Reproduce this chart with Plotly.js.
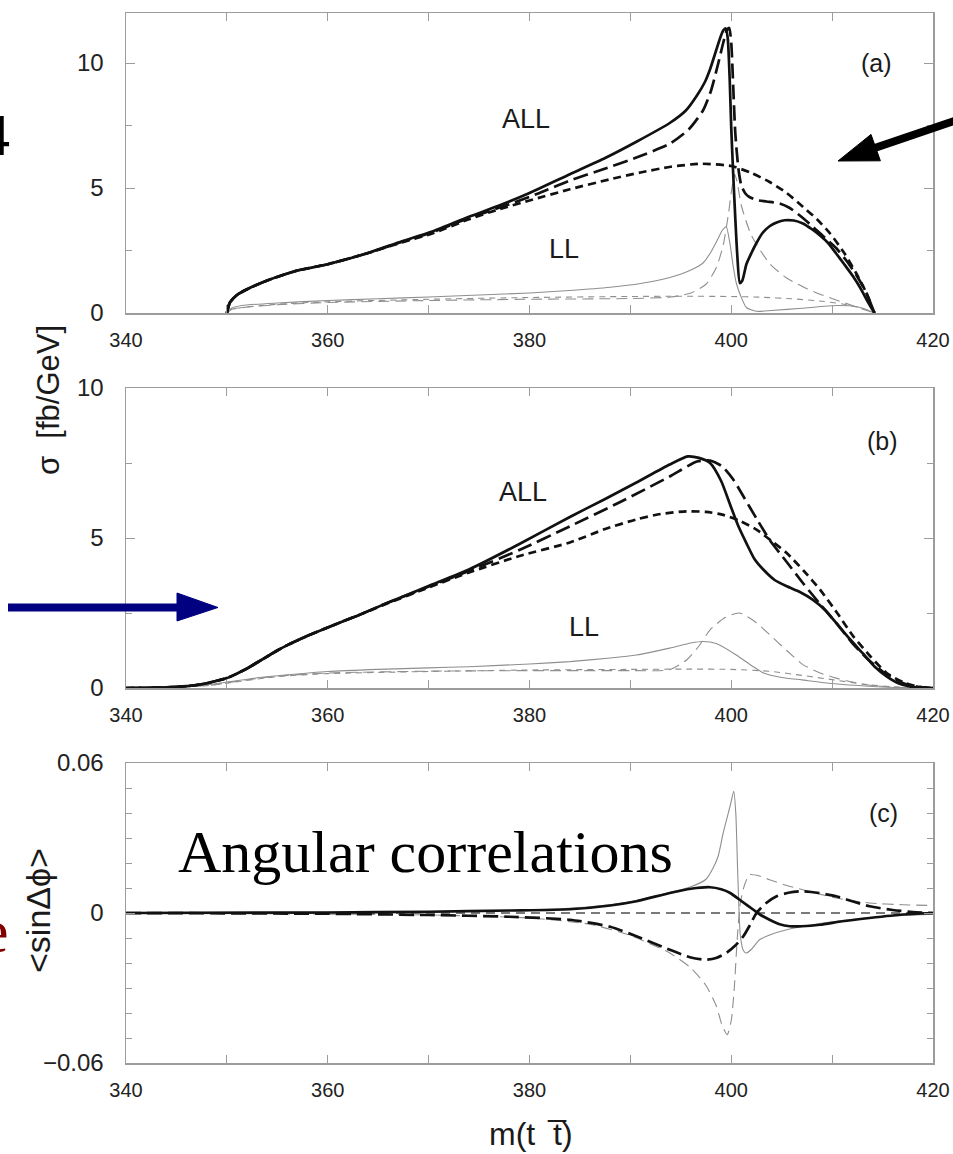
<!DOCTYPE html>
<html>
<head>
<meta charset="utf-8">
<script src="https://cdn.plot.ly/plotly-3.0.1.min.js"></script>
<style>
html,body{margin:0;padding:0;background:#fff;}
#chart{width:953px;height:1154px;}
</style>
</head>
<body>
<div id="chart"></div>
<script>
// ---------------- Panel (a) ----------------
const aX_allSolid = [350, 350.3, 351, 352, 354, 357, 360, 364, 367, 370.5, 374, 377, 380, 384, 387.5, 390.6, 393.9, 395.5, 396.6, 397.4, 397.9, 398.5, 398.9, 399.2, 399.45, 399.65, 399.85, 400.0, 400.2, 400.4, 400.6, 400.85, 401.1, 401.5, 402, 402.5, 403.1, 403.8, 404.5, 405.3, 406.2, 407.1, 408, 408.8, 409.6, 410.4, 411.2, 412.1, 412.8, 413.4, 413.9, 414.2];
const aY_allSolid = [0, 0.42, 0.72, 0.95, 1.3, 1.7, 1.95, 2.4, 2.82, 3.28, 3.85, 4.3, 4.8, 5.55, 6.2, 6.85, 7.6, 8.1, 8.7, 9.25, 9.75, 10.5, 11.0, 11.3, 11.38, 11.0, 9.3, 7.4, 5.5, 3.8, 2.3, 1.2, 1.3, 1.95, 2.4, 2.8, 3.2, 3.47, 3.62, 3.71, 3.7, 3.58, 3.35, 3.1, 2.8, 2.38, 1.95, 1.45, 1.0, 0.55, 0.2, 0];

const aX_allLong = [350, 350.3, 351, 352, 354, 357, 360, 364, 367, 370.5, 374, 378, 381, 384, 387.3, 390.6, 393.9, 395.8, 397.2, 398.0, 398.7, 399.2, 399.55, 399.8, 400.0, 400.2, 400.4, 400.7, 401.0, 401.4, 401.8, 402.5, 403.5, 404.8, 405.8, 406.8, 408.1, 409.3, 410.4, 411.5, 412.5, 413.4, 414.2];
const aY_allLong = [0, 0.42, 0.72, 0.95, 1.3, 1.7, 1.95, 2.4, 2.8, 3.25, 3.8, 4.35, 4.8, 5.3, 5.75, 6.22, 6.77, 7.35, 8.1, 8.9, 9.97, 10.8, 11.3, 11.4, 10.8, 9.0, 7.2, 5.8, 5.1, 4.78, 4.64, 4.52, 4.46, 4.38, 4.2, 3.9, 3.45, 3.0, 2.6, 2.05, 1.45, 0.8, 0];

const aX_allShort = [350, 350.3, 351, 352, 354, 357, 360, 364, 367, 370.5, 374, 377, 380, 384, 388, 391, 394, 397, 400, 402, 403.8, 405.5, 407.1, 408.5, 409.8, 411.2, 412.4, 413.4, 414.2];
const aY_allShort = [0, 0.42, 0.72, 0.95, 1.3, 1.7, 1.95, 2.4, 2.78, 3.2, 3.75, 4.15, 4.5, 4.95, 5.35, 5.62, 5.85, 5.97, 5.88, 5.6, 5.24, 4.8, 4.25, 3.75, 3.18, 2.4, 1.58, 0.8, 0];

const aX_llSolid = [350, 350.5, 351.5, 355, 360, 365, 370, 375, 380, 384, 388, 391, 393.9, 396, 397.2, 398, 398.6, 399.1, 399.5, 399.9, 400.2, 400.5, 400.9, 401.5, 402.5, 404, 407, 410.4, 412.5, 413.5, 414.2];
const aY_llSolid = [0, 0.2, 0.3, 0.4, 0.5, 0.57, 0.64, 0.72, 0.8, 0.9, 1.03, 1.18, 1.42, 1.72, 2.0, 2.45, 2.9, 3.3, 3.45, 2.7, 1.85, 1.2, 0.72, 0.22, 0.07, 0.1, 0.19, 0.3, 0.25, 0.12, 0];

const aX_llLong = [350, 350.5, 355, 360, 370, 380, 390, 394, 396, 397.5, 398.5, 399.2, 399.7, 400.1, 400.35, 400.6, 401, 402, 403.8, 405.5, 407.1, 408.8, 410.4, 412, 413.3, 414.2];
const aY_llLong = [0, 0.15, 0.33, 0.42, 0.5, 0.55, 0.58, 0.64, 0.8, 1.15, 1.8, 2.7, 3.9, 5.1, 5.55, 5.2, 4.3, 3.1, 1.98, 1.4, 1.05, 0.75, 0.52, 0.3, 0.12, 0];

const aX_llShort = [350, 350.5, 355, 360, 370, 380, 390, 395, 400, 403, 406, 409, 411, 413, 414.2];
const aY_llShort = [0, 0.15, 0.35, 0.45, 0.55, 0.62, 0.66, 0.67, 0.66, 0.63, 0.57, 0.47, 0.36, 0.18, 0];

// ---------------- Panel (b) ----------------
const bX_allSolid = [340, 342, 344, 346, 347, 348, 349, 350, 351, 352, 353, 354, 355, 356, 358, 360, 363, 366, 370, 374, 379, 384, 387.5, 390.6, 393.9, 395.7, 396.8, 397.9, 399, 399.9, 400.7, 401.5, 402.3, 403.2, 404.3, 405.5, 406.8, 408.1, 409.3, 410.4, 411.7, 413, 414.2, 415.4, 416.5, 417.7, 419, 420];
const bY_allSolid = [0, 0.005, 0.02, 0.06, 0.1, 0.16, 0.24, 0.33, 0.48, 0.65, 0.85, 1.05, 1.25, 1.43, 1.74, 2.02, 2.42, 2.85, 3.4, 3.95, 4.8, 5.7, 6.3, 6.85, 7.45, 7.72, 7.67, 7.5, 6.9, 6.1, 5.4, 4.83, 4.3, 3.94, 3.6, 3.39, 3.2, 2.94, 2.6, 2.17, 1.65, 1.17, 0.72, 0.39, 0.17, 0.05, 0.01, 0];

const bX_allLong = [340, 342, 344, 346, 347, 348, 349, 350, 351, 352, 353, 354, 355, 356, 358, 360, 363, 366, 370, 374, 379, 384, 389, 393.9, 396.6, 397.9, 399.1, 400.2, 401.2, 402.5, 403.8, 405.5, 407.1, 408.8, 410.4, 412, 413.6, 415.2, 417, 418.5, 420];
const bY_allLong = [0, 0.005, 0.02, 0.06, 0.1, 0.16, 0.24, 0.33, 0.48, 0.65, 0.85, 1.05, 1.25, 1.43, 1.74, 2.02, 2.42, 2.85, 3.38, 3.9, 4.6, 5.39, 6.2, 7.05, 7.55, 7.58, 7.39, 6.95, 6.39, 5.65, 4.94, 4.2, 3.5, 2.8, 2.17, 1.5, 0.94, 0.5, 0.17, 0.04, 0];

const bX_allShort = [340, 342, 344, 346, 347, 348, 349, 350, 351, 352, 353, 354, 355, 356, 358, 360, 363, 366, 370, 374, 379, 384, 387.5, 390.6, 393, 395.6, 397.5, 399.1, 400.8, 402.5, 404, 405.5, 407.2, 408.8, 410.5, 412.1, 413.8, 415.4, 417, 418.5, 420];
const bY_allShort = [0, 0.005, 0.02, 0.06, 0.1, 0.16, 0.24, 0.33, 0.48, 0.65, 0.85, 1.05, 1.25, 1.43, 1.74, 2.02, 2.42, 2.83, 3.35, 3.85, 4.4, 4.85, 5.3, 5.62, 5.8, 5.89, 5.87, 5.78, 5.58, 5.28, 4.9, 4.5, 3.9, 3.28, 2.5, 1.72, 1.05, 0.5, 0.2, 0.05, 0];

const bX_llSolid = [340, 344, 346, 348, 350, 353, 356, 360, 365, 370, 374, 380, 384, 388, 390.6, 393.9, 396, 397.2, 398.5, 400.5, 402, 403.2, 405, 407, 410, 413.6, 417, 420];
const bY_llSolid = [0, 0.01, 0.04, 0.1, 0.2, 0.34, 0.44, 0.55, 0.62, 0.67, 0.71, 0.8, 0.88, 1.0, 1.1, 1.33, 1.5, 1.55, 1.48, 1.1, 0.75, 0.5, 0.35, 0.27, 0.15, 0.06, 0.01, 0];

const bX_llLong = [340, 344, 348, 350, 353, 356, 360, 370, 380, 390, 393.9, 395.6, 396.8, 397.9, 399.4, 400.8, 402.2, 403.8, 405.5, 407.1, 408.8, 410.4, 412, 413.6, 416, 420];
const bY_llLong = [0, 0.01, 0.08, 0.17, 0.32, 0.42, 0.5, 0.56, 0.58, 0.58, 0.61, 0.94, 1.4, 1.94, 2.35, 2.5, 2.25, 1.78, 1.25, 0.78, 0.5, 0.33, 0.2, 0.1, 0.03, 0];

const bX_llShort = [340, 348, 350, 355, 360, 370, 380, 390, 396, 400, 404, 407, 410, 413, 416, 420];
const bY_llShort = [0, 0.08, 0.16, 0.38, 0.48, 0.55, 0.6, 0.62, 0.63, 0.62, 0.55, 0.42, 0.28, 0.13, 0.04, 0];

// ---------------- Panel (c) ----------------
const cX_allSolid = [340, 360, 370, 378, 384, 388, 390.6, 393.9, 396, 397.9, 399, 399.9, 401, 402.2, 403, 403.8, 404.8, 405.8, 407, 408.8, 411, 413.7, 417, 420];
const cY_allSolid = [0, 0.0002, 0.0005, 0.001, 0.0015, 0.003, 0.0047, 0.008, 0.0097, 0.0103, 0.0095, 0.008, 0.0048, 0.0013, -0.001, -0.0027, -0.0045, -0.0053, -0.0053, -0.0047, -0.0033, -0.002, -0.0006, 0];

const cX_allLong = [340, 360, 370, 378, 384, 388, 390.6, 393.9, 396, 397.5, 398.5, 399.5, 400.4, 401.2, 401.9, 402.5, 403.4, 404.5, 405.8, 407.1, 408.7, 410.4, 412, 413.7, 416, 418, 420];
const cY_allLong = [0, -0.0003, -0.0008, -0.0015, -0.0027, -0.0055, -0.0093, -0.0147, -0.0178, -0.0187, -0.018, -0.016, -0.013, -0.0093, -0.0045, 0, 0.0038, 0.0067, 0.0082, 0.0087, 0.008, 0.0067, 0.0047, 0.0027, 0.0012, 0.0004, 0];

const cX_zero = [340, 420];
const cY_zero = [0, 0];

const cX_llSolid = [340, 370, 380, 386, 390, 393.9, 396, 397.5, 398.2, 398.7, 399.2, 399.9, 400.25, 400.45, 400.65, 400.9, 401.2, 401.5, 402, 402.8, 404, 405.5, 408, 410.4, 414, 417, 420];
const cY_llSolid = [0, 0.0004, 0.0012, 0.0025, 0.0045, 0.0082, 0.0105, 0.0135, 0.018, 0.0227, 0.032, 0.043, 0.0487, 0.04, 0.015, -0.009, -0.015, -0.016, -0.0145, -0.0107, -0.0085, -0.0067, -0.0047, -0.0033, -0.0018, -0.001, -0.0005];

const cX_llLong = [340, 370, 380, 386, 390, 393.9, 396, 397.5, 398.5, 399.1, 399.6, 400.0, 400.3, 400.6, 400.9, 401.3, 401.8, 402.8, 403.8, 405.5, 407.1, 410.4, 413.7, 417, 420];
const cY_llLong = [0, -0.0008, -0.002, -0.0045, -0.009, -0.016, -0.022, -0.029, -0.037, -0.045, -0.0487, -0.043, -0.03, -0.01, 0.004, 0.011, 0.0153, 0.0148, 0.0133, 0.011, 0.0093, 0.006, 0.004, 0.0033, 0.003];

// ---------------- Labels ----------------
const xTitle = 'm(t\u00a0 t\u0305)';
const yTitleSigma = '\u03c3\u00a0 [fb/GeV]';
const yTitleSin = '&lt;sin\u0394\u03d5&gt;';
const panelLabels = ['(a)', '(b)', '(c)'];
const curveLabels = ['ALL', 'LL'];

// ---------------- Styles ----------------
const SANS = 'Liberation Sans, Arial, Helvetica, sans-serif';
const SERIF = 'Liberation Serif, Times New Roman, serif';
const BLACK = '#111111';
const GRAY = '#8f8f8f';
const THICK = 2.7;
const THIN = 1.1;
const LONG = '15px,6px';
const SHORT = '8px,5px';
const THIN_LONG = '11px,6px';
const THIN_SHORT = '6px,5px';

function tr(x, y, xa, ya, color, width, dash) {
  return {x: x, y: y, xaxis: xa, yaxis: ya, type: 'scatter', mode: 'lines',
    line: {color: color, width: width, dash: dash, shape: 'spline', smoothing: 0.6},
    hoverinfo: 'skip', showlegend: false};
}

const data = [
  tr(aX_llShort, aY_llShort, 'x', 'y', GRAY, THIN, THIN_SHORT),
  tr(aX_llLong, aY_llLong, 'x', 'y', GRAY, THIN, THIN_LONG),
  tr(aX_llSolid, aY_llSolid, 'x', 'y', GRAY, THIN, 'solid'),
  tr(aX_allShort, aY_allShort, 'x', 'y', BLACK, THICK, SHORT),
  tr(aX_allLong, aY_allLong, 'x', 'y', BLACK, THICK, LONG),
  tr(aX_allSolid, aY_allSolid, 'x', 'y', BLACK, THICK, 'solid'),

  tr(bX_llShort, bY_llShort, 'x2', 'y2', GRAY, THIN, THIN_SHORT),
  tr(bX_llLong, bY_llLong, 'x2', 'y2', GRAY, THIN, THIN_LONG),
  tr(bX_llSolid, bY_llSolid, 'x2', 'y2', GRAY, THIN, 'solid'),
  tr(bX_allShort, bY_allShort, 'x2', 'y2', BLACK, THICK, SHORT),
  tr(bX_allLong, bY_allLong, 'x2', 'y2', BLACK, THICK, LONG),
  tr(bX_allSolid, bY_allSolid, 'x2', 'y2', BLACK, THICK, 'solid'),

  tr(cX_zero, cY_zero, 'x3', 'y3', '#7a7a7a', 2.2, '9px,6px'),
  tr(cX_llLong, cY_llLong, 'x3', 'y3', GRAY, THIN, THIN_LONG),
  tr(cX_llSolid, cY_llSolid, 'x3', 'y3', GRAY, THIN, 'solid'),
  tr(cX_allLong, cY_allLong, 'x3', 'y3', BLACK, THICK, LONG),
  tr(cX_allSolid, cY_allSolid, 'x3', 'y3', BLACK, THICK, 'solid')
];

const AXC = '#9c9c9c';
function xax(anchor) {
  return {anchor: anchor, domain: [0, 1], range: [340, 420], tickmode: 'linear', tick0: 340, dtick: 20,
    ticks: 'inside', ticklen: 8, tickwidth: 1, tickcolor: AXC, mirror: 'ticks', showline: true,
    linecolor: AXC, linewidth: 1.5, showgrid: false, zeroline: false, ticklabelstandoff: 8,
    tickfont: {family: SANS, size: 20, color: '#222'},
    minor: {tickmode: 'linear', tick0: 340, dtick: 10, ticks: 'inside', ticklen: 8, tickwidth: 1, tickcolor: AXC}};
}
function yax(anchor, dom, range, dtick, mdtick, fmt) {
  return {anchor: anchor, domain: dom, range: range, tickmode: 'linear', tick0: 0, dtick: dtick,
    ticks: 'inside', ticklen: 9, tickwidth: 1, tickcolor: AXC, mirror: 'ticks', showline: true,
    linecolor: AXC, linewidth: 1.5, showgrid: false, zeroline: false, ticklabelstandoff: 16,
    tickformat: fmt, tickfont: {family: SANS, size: 24, color: '#222'},
    minor: {tickmode: 'linear', tick0: 0, dtick: mdtick, ticks: 'inside', ticklen: 6, tickwidth: 1, tickcolor: AXC}};
}

// pixel -> paper helpers (plot area spans x 126..933, y 13..1063)
const L = 126, R = 20, T = 13, B = 91, W = 953, H = 1154;
function px(x) { return (x - L) / (W - L - R); }
function py(y) { return (H - B - y) / (H - T - B); }

function lab(text, xref, yref, x, y, size, extra) {
  return Object.assign({text: text, xref: xref, yref: yref, x: x, y: y, showarrow: false,
    xanchor: 'center', yanchor: 'middle', font: {family: SANS, size: size, color: '#1a1a1a'}}, extra || {});
}

const annotations = [
  lab(panelLabels[0], 'x', 'y', 414.4, 10.0, 25),
  lab(curveLabels[0], 'x', 'y', 379.7, 7.75, 27),
  lab(curveLabels[1], 'x', 'y', 383.4, 2.55, 27),
  lab(panelLabels[1], 'x2', 'y2', 415.0, 8.24, 25),
  lab(curveLabels[0], 'x2', 'y2', 379.4, 6.54, 27),
  lab(curveLabels[1], 'x2', 'y2', 385.4, 2.04, 27),
  lab(panelLabels[2], 'x3', 'y3', 415.1, 0.0401, 25),
  lab(yTitleSigma, 'paper', 'paper', px(48), py(400), 31, {textangle: -90}),
  lab(yTitleSin, 'paper', 'paper', px(38), py(911), 34, {textangle: -90}),
  lab(xTitle, 'paper', 'paper', px(531), py(1134), 32),
  lab('Angular correlations', 'paper', 'paper', px(176), py(852), 60,
      {xanchor: 'left', font: {family: SERIF, size: 60, color: '#000'}}),
  lab('4', 'paper', 'paper', px(12), py(135), 60,
      {xanchor: 'right', font: {family: SERIF, size: 60, color: '#000'}}),
  lab('e', 'paper', 'paper', px(11), py(931), 62,
      {xanchor: 'right', font: {family: SERIF, size: 62, color: '#800000'}})
];

function P(x, y) { return px(x).toFixed(5) + ',' + py(y).toFixed(5); }
const shapes = [
  {type: 'line', xref: 'paper', yref: 'paper', x0: px(8), y0: py(607.5), x1: px(180), y1: py(607.5),
   line: {color: '#000080', width: 8}},
  {type: 'path', xref: 'paper', yref: 'paper', path: 'M' + P(177, 593) + 'L' + P(218, 607.5) + 'L' + P(177, 621) + 'Z',
   fillcolor: '#000080', line: {color: '#000080', width: 1}},
  {type: 'line', xref: 'paper', yref: 'paper', x0: px(960), y0: py(119), x1: px(874), y1: py(148.3),
   line: {color: '#000', width: 8}},
  {type: 'path', xref: 'paper', yref: 'paper', path: 'M' + P(838, 161) + 'L' + P(871, 134.4) + 'L' + P(880.4, 160.8) + 'Z',
   fillcolor: '#000', line: {color: '#000', width: 1}}
];

const layout = {
  width: W, height: H, autosize: false,
  margin: {l: L, r: R, t: T, b: B, pad: 0},
  paper_bgcolor: '#fff', plot_bgcolor: '#fff',
  showlegend: false,
  xaxis: xax('y'),
  xaxis2: xax('y2'),
  xaxis3: xax('y3'),
  yaxis: yax('x', [750 / 1050, 1], [0, 12], 5, 2.5, ''),
  yaxis2: yax('x2', [375 / 1050, 675 / 1050], [0, 10], 5, 2.5, ''),
  yaxis3: yax('x3', [0, 300 / 1050], [-0.06, 0.06], 0.06, 0.01, '.2~f'),
  annotations: annotations,
  shapes: shapes
};

Plotly.newPlot('chart', data, layout, {staticPlot: true, displayModeBar: false});
</script>
</body>
</html>
